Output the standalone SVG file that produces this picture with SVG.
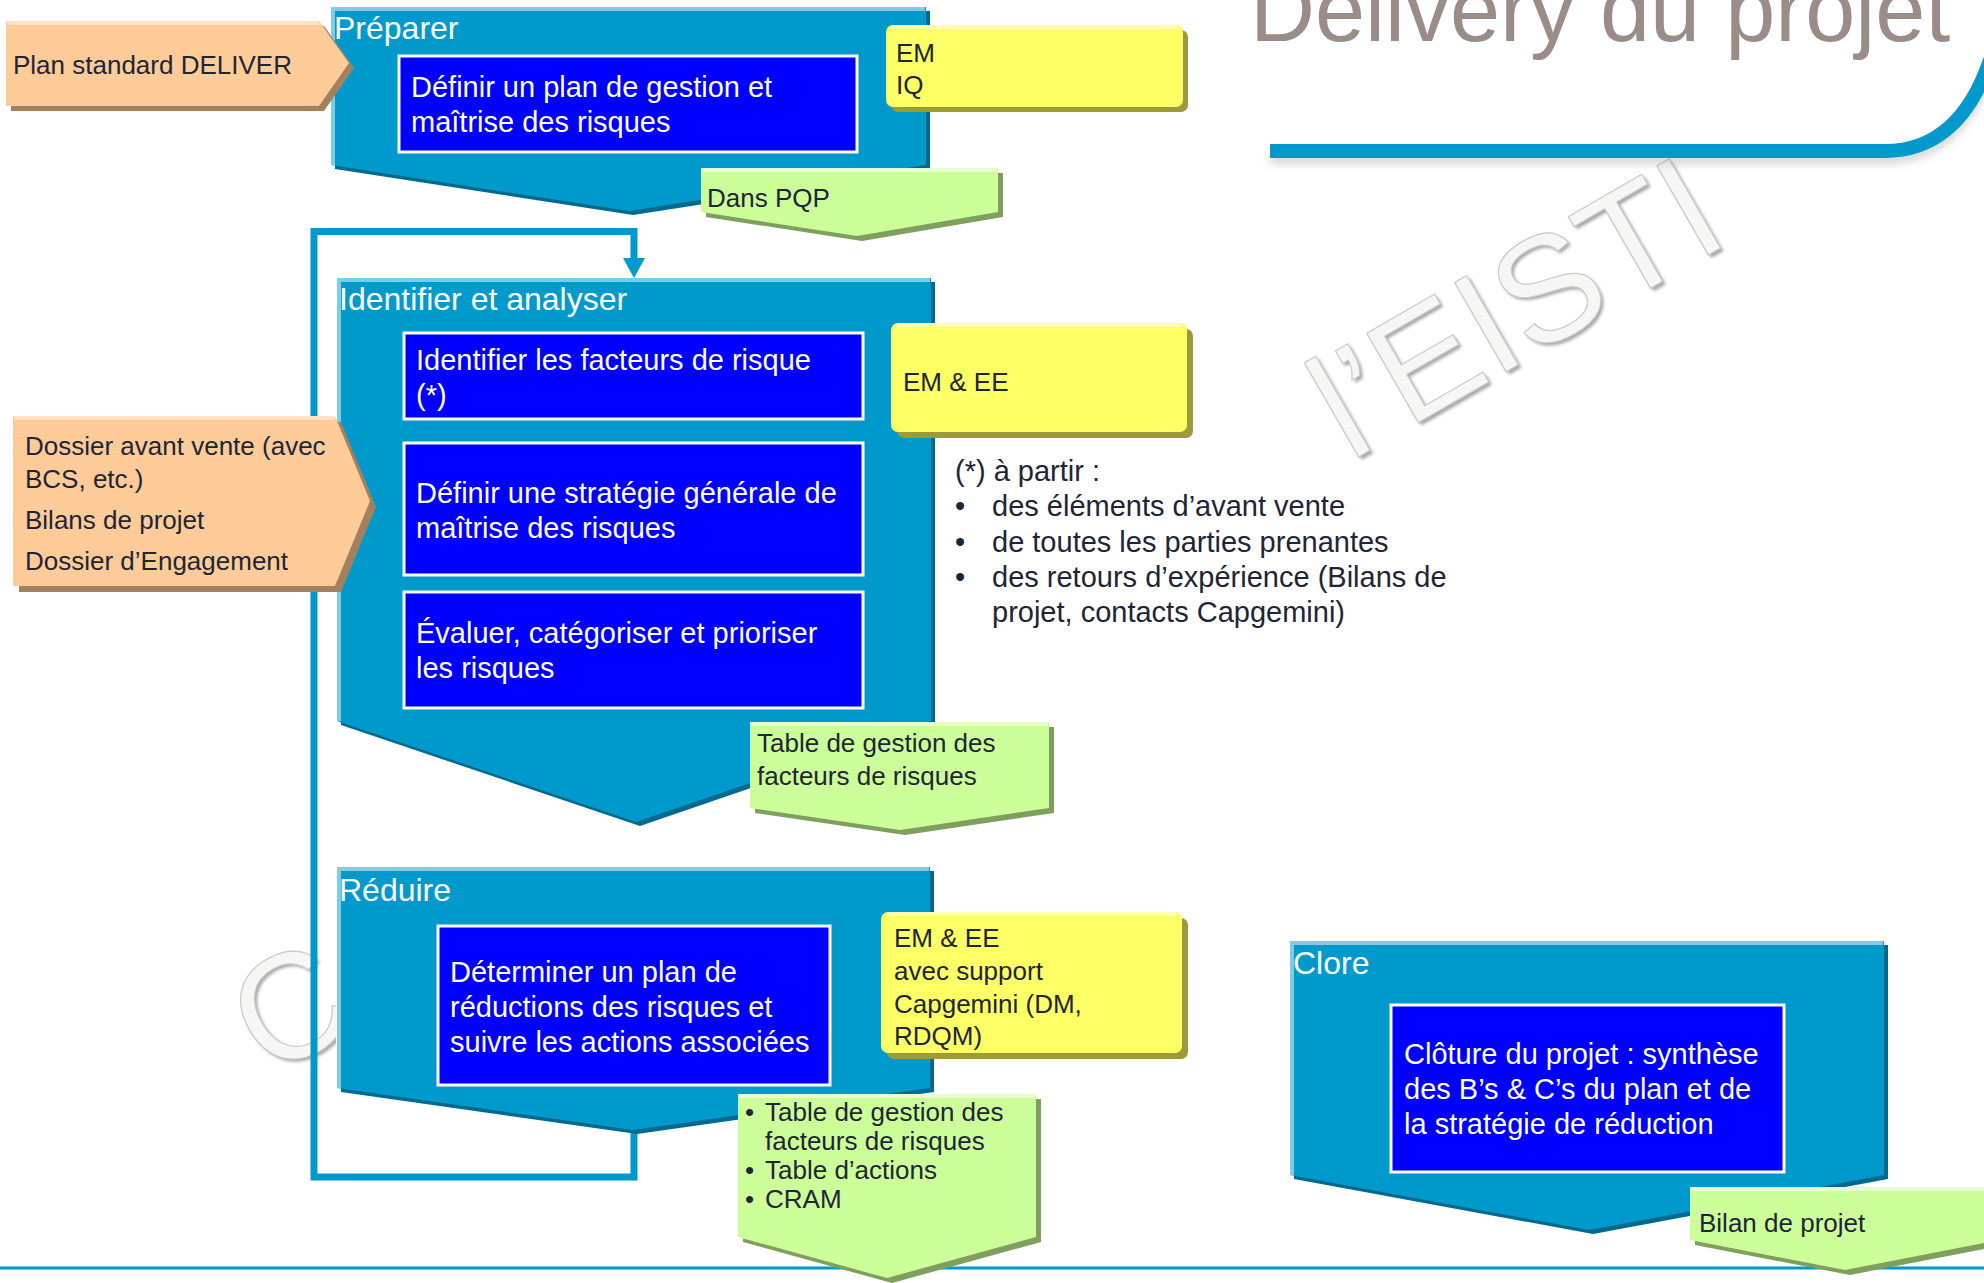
<svg xmlns="http://www.w3.org/2000/svg" width="1984" height="1283" viewBox="0 0 1984 1283">
<defs>
<style>
.f{font-family:"Liberation Sans",Arial,sans-serif}
.h{font-size:32px;fill:#FFFFFF}
.w{font-size:29px;fill:#FFFFFF}
.d{font-size:26px;fill:#1E2536}
.n{font-size:29px;fill:#1E2536}
.pent{fill:#0099CC}
.psh{fill:#006A8E}
.phl{fill:none;stroke:#7FCCE6;stroke-width:4}
.box{fill:#0000FF;stroke:#FFFFFF;stroke-width:3}
.yel{fill:#FFFF66}
.ysh{fill:#9C9B3C}
.yhl{fill:none;stroke:#FFFFB0;stroke-width:4}
.grn{fill:#CCFF99}
.gsh{fill:#7F9F5F}
.ghl{fill:none;stroke:#E6FFCC;stroke-width:4}
.org{fill:#FFCC99}
.osh{fill:#A3815F}
.ohl{fill:none;stroke:#FFE2C6;stroke-width:4}
.wm{font-family:"Liberation Sans",Arial,sans-serif;font-size:150px;fill:#F6F6F4;stroke:#CACACA;stroke-width:1.2}
.wms{font-family:"Liberation Sans",Arial,sans-serif;font-size:150px;fill:#A8A8A8}
</style>
<filter id="blur" x="-5%" y="-50%" width="110%" height="200%"><feGaussianBlur stdDeviation="4"/></filter>
<filter id="soft" x="-10%" y="-10%" width="120%" height="120%"><feGaussianBlur stdDeviation="1.5"/></filter>
<marker id="arr" markerUnits="userSpaceOnUse" markerWidth="24" markerHeight="24" refX="4" refY="11" orient="auto"><path d="M0,0 L20,11 L0,22 z" fill="#0099CC"/></marker>
<clipPath id="cclip"><rect x="0" y="900" width="336" height="200"/></clipPath>
</defs>
<rect width="1984" height="1283" fill="#FFFFFF"/>

<g id="watermark">
<g clip-path="url(#cclip)">
<text class="wms" transform="translate(272,1082) rotate(-30)" filter="url(#soft)">C</text>
<text class="wm" transform="translate(269,1079) rotate(-30)">C</text>
</g>
<text class="wms" transform="translate(1353,465) rotate(-30)" filter="url(#soft)">l’EISTI</text>
<text class="wm" transform="translate(1350,462) rotate(-30)">l’EISTI</text>
</g>

<g id="title">
<path d="M1270,159 L1885,159 C1930,159 1968,133 1990,68" fill="none" stroke="#888888" stroke-opacity="0.35" stroke-width="10" filter="url(#blur)"/>
<path d="M1270,151 L1885,151 C1930,151 1968,125 1990,60" fill="none" stroke="#0099CC" stroke-width="14"/>
<text class="f" x="1250" y="41" font-size="90" fill="#9A8D87">Delivery du projet</text>
</g>

<line x1="0" y1="1268" x2="1984" y2="1268" stroke="#0099CC" stroke-width="3"/>

<g id="connectors">
<path d="M634,1130 V1177 H314 V231.5 H634 V262" fill="none" stroke="#0099CC" stroke-width="7" marker-end="url(#arr)"/>
</g>

<g id="preparer">
<polygon class="psh" points="335,11 930,11 930,169 633,215 335,169"/>
<polygon class="pent" points="331,7 926,7 926,165 629,211 331,165"/>
<polyline class="phl" points="333,165 333,9 925,9"/>
<text class="f h" x="334" y="39">Préparer</text>
<rect class="box" x="399" y="56" width="458" height="96"/>
<text class="f w" x="411" y="97">Définir un plan de gestion et</text>
<text class="f w" x="411" y="132">maîtrise des risques</text>
</g>

<g id="plan-standard">
<polygon class="osh" points="11,26 324,26 354,68 324,111 11,111"/>
<polygon class="org" points="6,21 319,21 349,63 319,106 6,106"/>
<polyline class="ohl" points="7,23 319,23"/>
<text class="f d" x="13" y="74">Plan standard DELIVER</text>
</g>

<g id="em-iq">
<rect class="ysh" x="891" y="30" width="297" height="82" rx="7"/>
<rect class="yel" x="886" y="25" width="297" height="82" rx="7"/>
<path class="yhl" d="M892,27 H1177"/>
<text class="f d" x="896" y="62">EM</text>
<text class="f d" x="896" y="94">IQ</text>
</g>

<g id="dans-pqp">
<polygon class="gsh" points="706,173 1003,173 1003,217 862,241 706,217"/>
<polygon class="grn" points="701,168 998,168 998,212 857,236 701,212"/>
<polyline class="ghl" points="702,170 997,170"/>
<text class="f d" x="707" y="207">Dans PQP</text>
</g>

<g id="identifier">
<polygon class="psh" points="341,282 935,282 935,725 640,826 341,725"/>
<polygon class="pent" points="337,278 931,278 931,721 636,822 337,721"/>
<polyline class="phl" points="339,721 339,280 930,280"/>
<text class="f h" x="339" y="310">Identifier et analyser</text>
<rect class="box" x="404" y="333" width="459" height="86"/>
<text class="f w" x="416" y="370">Identifier les facteurs de risque</text>
<text class="f w" x="416" y="405">(*)</text>
<rect class="box" x="404" y="443" width="459" height="132"/>
<text class="f w" x="416" y="503">Définir une stratégie générale de</text>
<text class="f w" x="416" y="538">maîtrise des risques</text>
<rect class="box" x="404" y="592" width="459" height="116"/>
<text class="f w" x="416" y="643">Évaluer, catégoriser et prioriser</text>
<text class="f w" x="416" y="678">les risques</text>
</g>

<g id="dossier">
<polygon class="osh" points="19,422 341,422 376,507 341,592 19,592"/>
<polygon class="org" points="13,416 335,416 370,501 335,586 13,586"/>
<polyline class="ohl" points="14,418 335,418"/>
<text class="f d" x="25" y="455">Dossier avant vente (avec</text>
<text class="f d" x="25" y="488">BCS, etc.)</text>
<text class="f d" x="25" y="529">Bilans de projet</text>
<text class="f d" x="25" y="570">Dossier d’Engagement</text>
</g>

<g id="em-ee">
<rect class="ysh" x="897" y="329" width="296" height="109" rx="7"/>
<rect class="yel" x="891" y="323" width="296" height="109" rx="7"/>
<path class="yhl" d="M897,325 H1181"/>
<text class="f d" x="903" y="391">EM &amp; EE</text>
</g>

<g id="note">
<text class="f n" x="955" y="481">(*) à partir :</text>
<text class="f n" x="955" y="516">•</text>
<text class="f n" x="992" y="516">des éléments d’avant vente</text>
<text class="f n" x="955" y="552">•</text>
<text class="f n" x="992" y="552">de toutes les parties prenantes</text>
<text class="f n" x="955" y="587">•</text>
<text class="f n" x="992" y="587">des retours d’expérience (Bilans de</text>
<text class="f n" x="992" y="622">projet, contacts Capgemini)</text>
</g>

<g id="table-facteurs">
<polygon class="gsh" points="755,727 1054,727 1054,813 905,835 755,813"/>
<polygon class="grn" points="750,722 1049,722 1049,808 900,830 750,808"/>
<polyline class="ghl" points="751,724 1048,724"/>
<text class="f d" x="757" y="752">Table de gestion des</text>
<text class="f d" x="757" y="785">facteurs de risques</text>
</g>

<g id="reduire">
<polygon class="psh" points="341,871 934,871 934,1092 637,1134 341,1092"/>
<polygon class="pent" points="337,867 930,867 930,1088 633,1130 337,1088"/>
<polyline class="phl" points="339,1088 339,869 929,869"/>
<text class="f h" x="339" y="901">Réduire</text>
<rect class="box" x="438" y="926" width="392" height="159"/>
<text class="f w" x="450" y="982">Déterminer un plan de</text>
<text class="f w" x="450" y="1017">réductions des risques et</text>
<text class="f w" x="450" y="1052">suivre les actions associées</text>
</g>

<g id="em-ee-support">
<rect class="ysh" x="887" y="918" width="301" height="141" rx="7"/>
<rect class="yel" x="881" y="912" width="301" height="141" rx="7"/>
<path class="yhl" d="M887,914 H1176"/>
<text class="f d" x="894" y="947">EM &amp; EE</text>
<text class="f d" x="894" y="980">avec support</text>
<text class="f d" x="894" y="1013">Capgemini (DM,</text>
<text class="f d" x="894" y="1045">RDQM)</text>
</g>

<g id="table-actions">
<polygon class="gsh" points="743,1099 1041,1099 1041,1242 892,1283 743,1242"/>
<polygon class="grn" points="738,1094 1036,1094 1036,1237 887,1278 738,1237"/>
<polyline class="ghl" points="739,1096 1035,1096"/>
<text class="f d" x="745" y="1121">•</text>
<text class="f d" x="765" y="1121">Table de gestion des</text>
<text class="f d" x="765" y="1150">facteurs de risques</text>
<text class="f d" x="745" y="1179">•</text>
<text class="f d" x="765" y="1179">Table d’actions</text>
<text class="f d" x="745" y="1208">•</text>
<text class="f d" x="765" y="1208">CRAM</text>
</g>

<g id="clore">
<polygon class="psh" points="1294,945 1888,945 1888,1179 1593,1234 1294,1179"/>
<polygon class="pent" points="1290,941 1884,941 1884,1175 1589,1230 1290,1175"/>
<polyline class="phl" points="1292,1175 1292,943 1883,943"/>
<text class="f h" x="1293" y="974">Clore</text>
<rect class="box" x="1391" y="1005" width="393" height="167"/>
<text class="f w" x="1404" y="1064">Clôture du projet : synthèse</text>
<text class="f w" x="1404" y="1099">des B’s &amp; C’s du plan et de</text>
<text class="f w" x="1404" y="1134">la stratégie de réduction</text>
</g>

<g id="bilan">
<polygon class="gsh" points="1695,1192 2005,1192 2005,1245 1850,1275 1695,1245"/>
<polygon class="grn" points="1690,1187 2000,1187 2000,1240 1845,1270 1690,1240"/>
<polyline class="ghl" points="1691,1189 2000,1189"/>
<text class="f d" x="1699" y="1232">Bilan de projet</text>
</g>
</svg>
